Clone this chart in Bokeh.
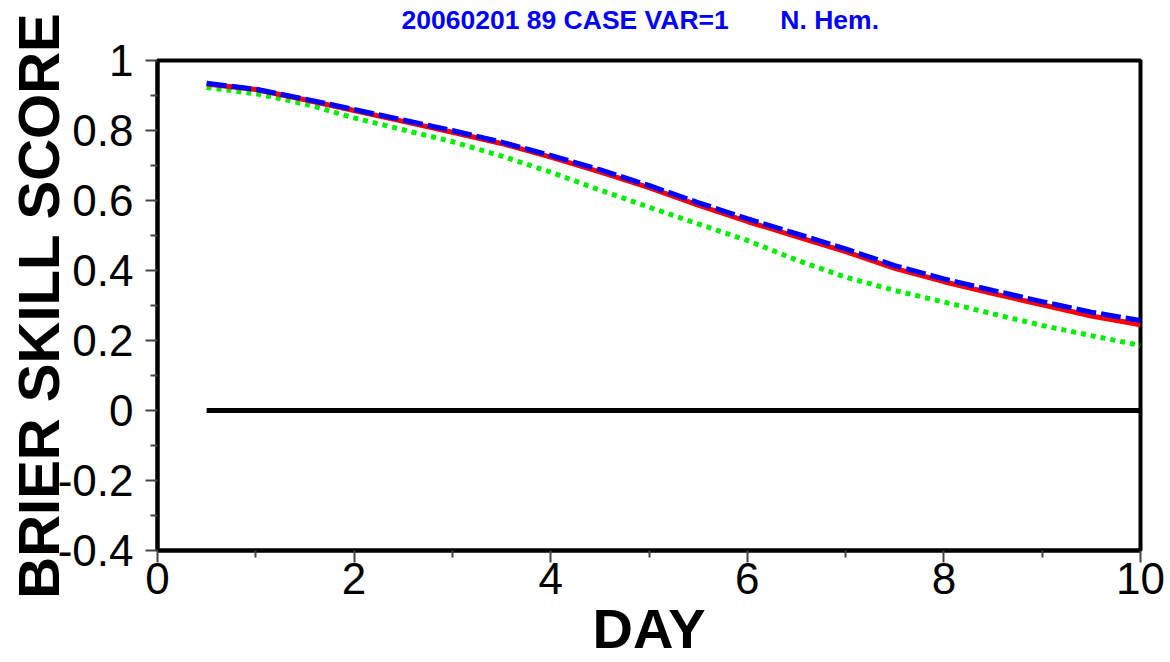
from bokeh.plotting import figure
from bokeh.models import FixedTicker, PrintfTickFormatter, Title
from bokeh.embed import file_html
from bokeh.resources import INLINE

# ---- data ----
days = [0.5, 1.0, 1.5, 2.0, 2.5, 3.0, 3.5, 4.0, 4.5, 5.0,
        5.5, 6.0, 6.5, 7.0, 7.5, 8.0, 8.5, 9.0, 9.5, 10.0]
bss_red = [0.933, 0.917, 0.888, 0.857, 0.826, 0.795, 0.763, 0.724, 0.682, 0.637,
           0.587, 0.540, 0.497, 0.454, 0.406, 0.368, 0.334, 0.302, 0.270, 0.245]
bss_blue = [0.935, 0.918, 0.890, 0.860, 0.830, 0.800, 0.767, 0.729, 0.688, 0.643,
            0.594, 0.548, 0.505, 0.462, 0.414, 0.376, 0.343, 0.311, 0.281, 0.257]
bss_green = [0.923, 0.905, 0.876, 0.836, 0.802, 0.768, 0.727, 0.681, 0.630, 0.581,
             0.533, 0.486, 0.430, 0.381, 0.343, 0.310, 0.276, 0.243, 0.214, 0.186]
zero_ref = [0.0] * len(days)

x_ticks = [0, 2, 4, 6, 8, 10]
x_minor = [1, 3, 5, 7, 9]
y_ticks = [-0.4, -0.2, 0, 0.2, 0.4, 0.6, 0.8, 1.0]
y_minor = [-0.3, -0.1, 0.1, 0.3, 0.5, 0.7, 0.9]

title_text = "20060201 89 CASE VAR=1" + "\u00a0" * 7 + "N. Hem."
FONT = "Liberation Sans"

p = figure(width=1170, height=662, output_backend="svg", toolbar_location=None,
           x_range=(0, 10), y_range=(-0.4, 1.0),
           min_border_left=157, min_border_right=30,
           min_border_top=60, min_border_bottom=112,
           title=None)

xaxis = p.below[0]
yaxis = p.left[0]

# title: a trailing empty line makes the title panel fill the top border,
# so the text sits at the very top of the canvas as in the reference
t = Title(text=title_text + "\n", text_font=FONT, text_font_size="26.5px",
          text_font_style="bold", text_color="#0000ff", align="left",
          offset=244, standoff=0, vertical_align="top", text_line_height=0.8)
p.add_layout(t, "above")

p.grid.visible = False
p.background_fill_color = "white"
p.border_fill_color = "white"
p.outline_line_color = "black"
p.outline_line_width = 4

for ax in (xaxis, yaxis):
    ax.axis_line_width = 4
    ax.axis_line_color = "black"
    ax.major_tick_line_color = "#444444"
    ax.major_tick_line_width = 2
    ax.minor_tick_line_color = "#444444"
    ax.minor_tick_line_width = 2
    ax.major_tick_in = 0
    ax.major_tick_out = 12
    ax.minor_tick_in = 0
    ax.minor_tick_out = 7
    ax.major_label_text_font = FONT
    ax.major_label_text_font_size = "44px"
    ax.major_label_text_color = "black"
    ax.axis_label_text_font = FONT
    ax.axis_label_text_font_style = "bold"
    ax.axis_label_text_color = "black"
    ax.formatter = PrintfTickFormatter(format="%g")

xaxis.ticker = FixedTicker(ticks=x_ticks, minor_ticks=x_minor)
yaxis.ticker = FixedTicker(ticks=y_ticks, minor_ticks=y_minor)

xaxis.axis_label = "DAY"
xaxis.axis_label_text_font_size = "56px"
xaxis.major_label_standoff = 0
xaxis.axis_label_standoff = 0

yaxis.axis_label = "BRIER SKILL SCORE"
yaxis.axis_label_text_font_size = "58px"
yaxis.major_label_standoff = 12
yaxis.axis_label_standoff = -16

# reference zero line
p.line(days, zero_ref, line_color="black", line_width=5)
# series
p.line(days, bss_green, line_color="#00ee00", line_width=5, line_dash="5 5")
p.line(days, bss_red, line_color="#ff0000", line_width=5)
p.line(days, bss_blue, line_color="#0000ff", line_width=5, line_dash="20 5")

open("out.html", "w").write(file_html(p, INLINE))
